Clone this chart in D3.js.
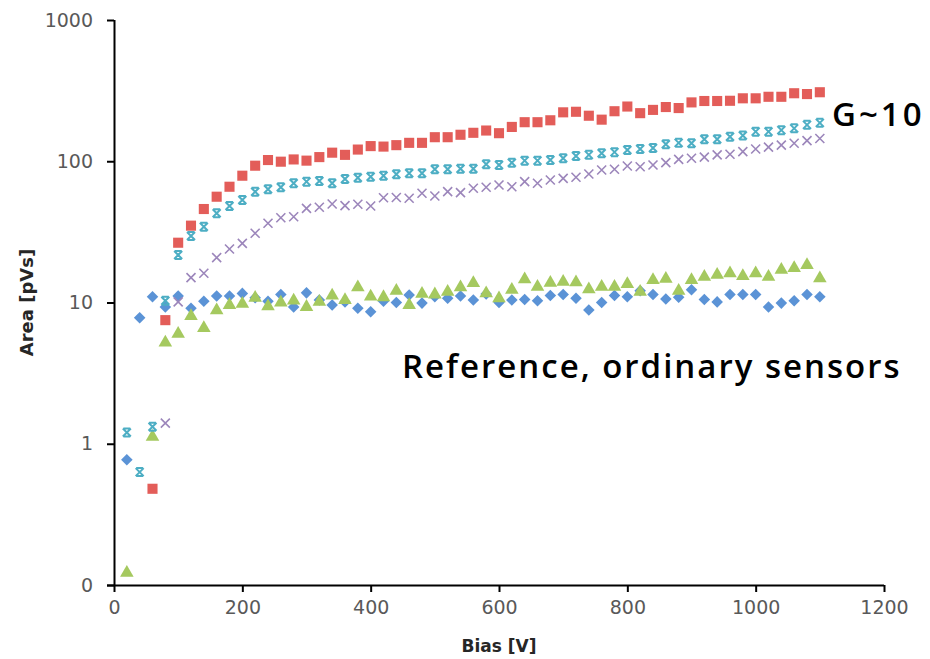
<!DOCTYPE html>
<html>
<head>
<meta charset="utf-8">
<script src="https://cdn.jsdelivr.net/npm/d3@7"></script>
<style>
  body { margin: 0; background: #fff; }
  svg { display: block; }
  .tick text { fill: #595959; font-family: "DejaVu Sans", sans-serif; font-size: 19px; }
</style>
</head>
<body>
<svg id="chart"></svg>
<script>
// bias voltage of every measurement point
const biasV = [20, 40, 60, 80, 100, 120, 140, 160, 180, 200,
  220, 240, 260, 280, 300, 320, 340, 360, 380, 400,
  420, 440, 460, 480, 500, 520, 540, 560, 580, 600,
  620, 640, 660, 680, 700, 720, 740, 760, 780, 800,
  820, 840, 860, 880, 900, 920, 940, 960, 980, 1000,
  1020, 1040, 1060, 1080, 1100];

// area [pVs], null = no point
const blueArea = [0.77, 7.8, 11.0, 9.3, 11.1, 9.1, 10.2, 11.1, 11.1, 11.6,
  10.8, 10.2, 11.4, 9.3, 11.7, 10.4, 9.6, 10.1, 9.1, 8.6,
  10.2, 10.0, 11.3, 9.9, 11.0, 10.7, 11.1, 10.4, 11.5, 10.0,
  10.4, 10.5, 10.3, 11.2, 11.4, 10.7, 8.85, 10.0, 11.2, 11.0,
  12.1, 11.4, 10.6, 10.9, 12.3, 10.5, 10.1, 11.4, 11.4, 11.4,
  9.3, 9.9, 10.3, 11.4, 11.0];
const greenArea = [0.122, null, 1.12, 5.2, 6.0, 8.0, 6.6, 8.8, 9.6, 9.8,
  10.8, 9.4, 10.0, 10.3, 9.3, 10.1, 11.2, 10.4, 12.8, 11.0,
  10.9, 12.1, 9.6, 11.5, 11.4, 11.9, 12.8, 13.7, 11.6, 10.7,
  12.3, 14.6, 12.9, 13.8, 14.0, 13.9, 12.4, 12.9, 12.9, 13.5,
  11.9, 14.4, 14.7, 12.1, 14.4, 15.2, 15.7, 16.1, 15.4, 16.1,
  15.2, 17.0, 17.5, 18.4, 14.8];
const redArea = [null, null, 0.48, 7.5, 26.5, 35.0, 45.9, 56.1, 66.0, 79.0,
  93, 102, 99.3, 103, 101, 107, 115, 111, 121, 128,
  127, 130, 135, 135, 148, 148, 154, 159, 165, 158,
  175, 189, 189, 195, 222, 224, 210, 197, 226, 244,
  219, 231, 242, 238, 261, 267, 267, 268, 279, 279,
  286, 286, 303, 299, 308];
const cyanArea = [1.20, 0.63, 1.32, 10.3, 21.7, 29.6, 34.4, 42.8, 48.2, 53.2,
  60.9, 63.3, 65.4, 69.8, 71.7, 72.5, 69.8, 74.9, 76.5, 77.7,
  79.0, 81.0, 82.2, 82.2, 87.7, 87.7, 88.6, 88.6, 95.1, 94.1,
  97.7, 101, 101, 102, 105, 109, 111, 114, 116, 120,
  122, 124, 132, 135, 134, 143, 143, 149, 152, 162,
  162, 166, 171, 181, 187];
const purpleArea = [null, null, null, 1.40, 10.1, 15.0, 16.1, 20.8, 23.9, 26.2,
  30.9, 36.4, 39.8, 40.5, 46.4, 47.2, 49.8, 48.5, 49.6, 48.2,
  55.2, 55.4, 54.7, 59.3, 56.8, 60.9, 59.9, 64.4, 65.4, 67.9,
  66.0, 71.7, 69.8, 73.7, 75.7, 77.0, 81.2, 86.7, 87.7, 92.5,
  91.5, 94.1, 97.7, 103, 105, 107, 111, 112, 117, 122,
  126, 130, 134, 140, 145];

const xTicks = [0, 200, 400, 600, 800, 1000, 1200];
const yTicks = [0.1, 1, 10, 100, 1000];
const yTickLabels = ["0", "1", "10", "100", "1000"];

const width = 930, height = 659;
const margin = { top: 20, right: 46, bottom: 74, left: 114 };

const svg = d3.select('#chart').attr('width', width).attr('height', height);

const x = d3.scaleLinear().domain([0, 1200]).range([margin.left, width - margin.right]);
const y = d3.scaleLog().domain([0.1, 1000]).range([height - margin.bottom, margin.top]);

// axes
let xAxis = d3.axisBottom(x).tickValues(xTicks).tickSize(7).tickPadding(9).tickFormat(d3.format('d'));
svg.append('g')
  .attr('transform', `translate(0,${y(0.1)})`)
  .call(xAxis)
  .call(g => g.select('.domain').attr('d', `M${x(0) - 7},0.5H${x(1200)}`));

let yAxis = d3.axisLeft(y).tickValues(yTicks).tickSize(7).tickPadding(14)
  .tickFormat((d, i) => yTickLabels[i]);
svg.append('g')
  .attr('transform', `translate(${x(0)},0)`)
  .call(yAxis)
  .call(g => g.select('.domain').attr('d', `M0.5,${y(1000)}V${y(0.1)}`));

svg.selectAll('.domain, .tick line').attr('stroke', '#000').attr('stroke-width', 2);

svg.append('text')
  .attr('transform', `translate(33,${(y(0.1) + y(1000)) / 2}) rotate(-90)`)
  .attr('text-anchor', 'middle')
  .style('font-family', '"DejaVu Sans", sans-serif')
  .style('font-weight', 'bold')
  .style('font-size', '18px')
  .attr('fill', '#262626')
  .text('Area [pVs]');

svg.append('text')
  .attr('x', (x(0) + x(1200)) / 2)
  .attr('y', 652)
  .attr('text-anchor', 'middle')
  .style('font-family', '"DejaVu Sans", sans-serif')
  .style('font-weight', 'bold')
  .style('font-size', '17px')
  .attr('fill', '#262626')
  .text('Bias [V]');

// markers
let symbols = {
  diamond: d3.symbol().type(d3.symbolDiamond2).size(85)(),
  square: d3.symbol().type(d3.symbolSquare2).size(130)(),
  triangle: d3.symbol().type(d3.symbolTriangle).size(80)(),
  cross: 'M-4.5,-4.5L4.5,4.5M4.5,-4.5L-4.5,4.5',
  star: 'M-4,-4L4,4M4,-4L-4,4M-3.5,-4H3.5M-3.5,4H3.5'
};

let series = [
  { name: 'blue', values: blueArea, shape: 'diamond', fill: '#5b93d6', stroke: 'none' },
  { name: 'green', values: greenArea, shape: 'triangle', fill: '#a5c95f', stroke: 'none' },
  { name: 'purple', values: purpleArea, shape: 'cross', fill: 'none', stroke: '#9c86bb' },
  { name: 'cyan', values: cyanArea, shape: 'star', fill: 'none', stroke: '#4daec4' },
  { name: 'red', values: redArea, shape: 'square', fill: '#e35d59', stroke: 'none' }
];

series.forEach(s => {
  let pts = biasV.map((v, i) => ({ bias: v, area: s.values[i] })).filter(d => d.area != null);
  svg.append('g')
    .attr('class', 'series-' + s.name)
    .selectAll('path')
    .data(pts)
    .enter()
    .append('path')
    .attr('transform', d => `translate(${x(d.bias)},${y(d.area)})`)
    .attr('d', symbols[s.shape])
    .attr('fill', s.fill)
    .attr('stroke', s.stroke)
    .attr('stroke-width', s.shape === 'star' ? 2 : 1.6);
});

// annotations
svg.append('text')
  .attr('x', 832).attr('y', 126)
  .style('font-family', '"Open Sans", sans-serif')
  .style('font-weight', 600)
  .style('font-size', '33px')
  .style('letter-spacing', '3px')
  .attr('fill', '#000')
  .text('G~10');

svg.append('text')
  .attr('x', 402).attr('y', 378)
  .style('font-family', '"Open Sans", sans-serif')
  .style('font-weight', 600)
  .style('font-size', '33px')
  .style('letter-spacing', '2px')
  .attr('fill', '#000')
  .text('Reference, ordinary sensors');
</script>
</body>
</html>
